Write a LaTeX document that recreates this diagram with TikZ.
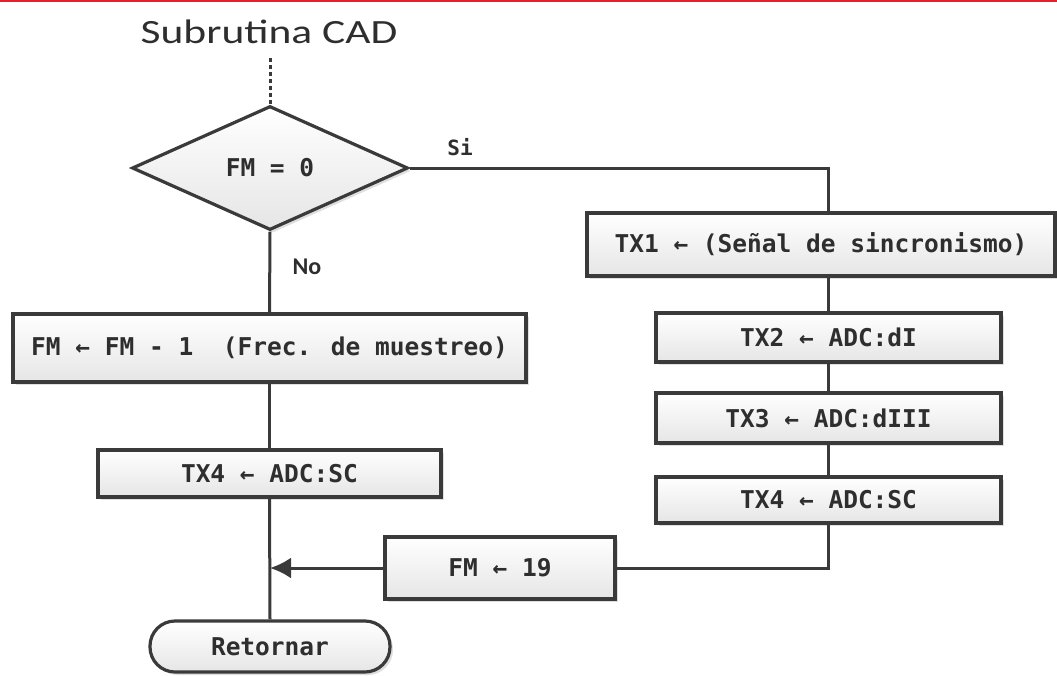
\documentclass[tikz,border=0pt]{standalone}
\usepackage{fontspec}
\setmainfont{Carlito}
\newfontfamily\codefont{DejaVu Sans Mono}
\newfontfamily\titlefont[FakeStretch=1.28]{Carlito}
\usetikzlibrary{shapes.geometric,shadows,arrows.meta}

\definecolor{linegray}{HTML}{3A3A3A}
\definecolor{textgray}{HTML}{2E2E2E}
\definecolor{topred}{HTML}{E3202B}

\begin{document}
\begin{tikzpicture}[x=1pt,y=-1pt,
    flow/.style={draw=linegray, line width=3.2pt, top color=white, bottom color=black!10, drop shadow={shadow xshift=3pt, shadow yshift=-3pt, opacity=0.25}, inner sep=0pt, text=textgray, font=\codefont\bfseries\fontsize{24.5}{28}\selectfont},
    proc/.style={flow, rectangle},
    wire/.style={draw=linegray, line width=3pt}]
        \useasboundingbox (0,0) rectangle (1057,675);
        \draw[topred, line width=2.5pt] (0,1) -- (1057,1);

        %Subrutina CAD (y 22 - 44)
        \node[text=textgray, font=\titlefont\fontsize{34}{40}\selectfont] (titulo) at (269,32) {Subrutina CAD};
        \coordinate (inicio) at (270,58);
        %FM = 0 (130 - 406, 106 - 230)
        \node[flow, diamond, minimum width=276pt, minimum height=124pt] (cond) at (270,168) {FM = 0};
        \draw[wire, dash pattern=on 4pt off 3pt] (inicio) -- (cond.north);
        \node[text=textgray, font=\codefont\bfseries\fontsize{21}{24}\selectfont] (si) at (460,147) {Si};
        \node[text=textgray, font=\bfseries\fontsize{24}{28}\selectfont] (no) at (307,267) {No};

        %rama No: FM - 1 (13 - 526), TX4 (98 - 441), Retornar (150 - 390)
        \node[proc, minimum width=513pt, minimum height=68pt] (frec) at (269.5,348) {FM ← FM - 1\ \ (Frec. de muestreo)};
        \node[proc, minimum width=343pt, minimum height=47pt] (txcuatroA) at (269.5,473.5) {TX4 ← ADC:SC};
        \node[flow, rectangle, rounded corners=25pt, minimum width=240pt, minimum height=51pt] (ret) at (270,646.5) {Retornar};
        \coordinate (union) at (270,568);

        %rama Si: TX1 (587 - 1055), TX2 - TX4 (656 - 1001), FM 19 (385 - 615)
        \node[proc, minimum width=468pt, minimum height=63pt] (txuno) at (821,244.5) {TX1 ← (Señal de sincronismo)};
        \node[proc, minimum width=345pt, minimum height=49pt] (txdos) at (828.5,337.5) {TX2 ← ADC:dI};
        \node[proc, minimum width=345pt, minimum height=50pt] (txtres) at (828.5,418) {TX3 ← ADC:dIII};
        \node[proc, minimum width=345pt, minimum height=46pt] (txcuatroB) at (828.5,500) {TX4 ← ADC:SC};
        \node[proc, minimum width=230pt, minimum height=62pt] (fmdiez) at (500,568) {FM ← 19};

        \draw[wire] (cond.south) -- (frec.north);
        \draw[wire] (frec.south) -- (txcuatroA.north);
        \draw[wire] (txcuatroA.south) -- (ret.north);
        \draw[wire] (cond.east) -| (txdos.north |- txuno.north);
        \draw[wire] (txdos.north |- txuno.south) -- (txdos.north);
        \draw[wire] (txdos.south) -- (txtres.north);
        \draw[wire] (txtres.south) -- (txcuatroB.north);
        \draw[wire] (txcuatroB.south) |- (fmdiez.east);
        \draw[wire, -{Latex[length=21pt,width=21pt]}] (fmdiez.west) -- (union);
    \end{tikzpicture}
\end{document}
